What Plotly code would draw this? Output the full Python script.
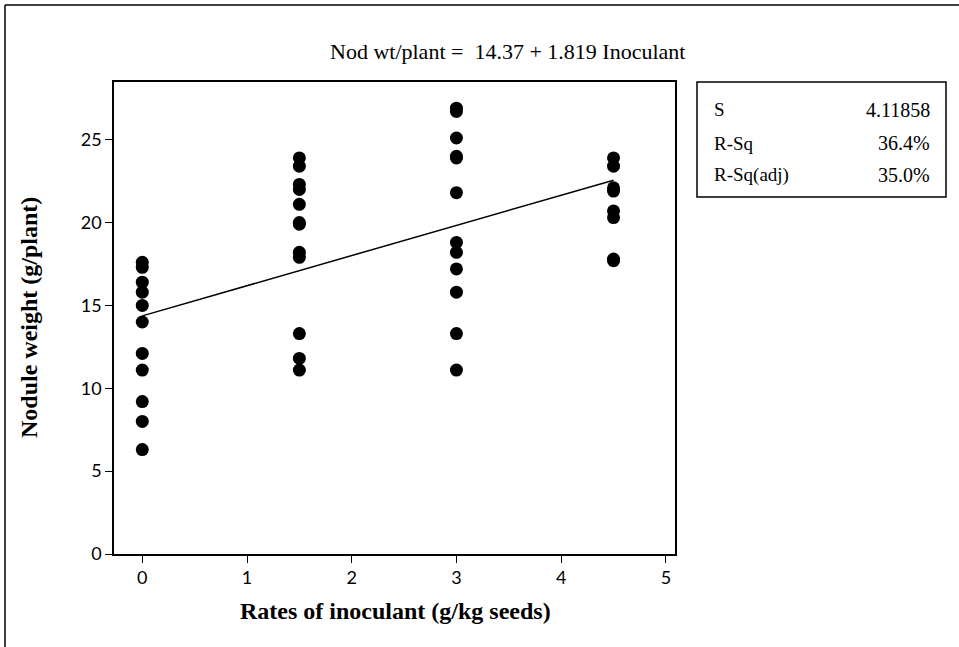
import plotly.graph_objects as go

# Nodule weight per plant at each inoculant rate
rate_0 = [17.6, 17.3, 16.4, 15.8, 15.0, 14.0, 12.1, 11.1, 9.2, 8.0, 6.3]
rate_15 = [23.9, 23.4, 22.3, 22.0, 21.1, 19.9, 20.0, 18.2, 17.9, 13.3, 11.8, 11.1]
rate_3 = [26.9, 26.7, 25.1, 24.0, 23.9, 21.8, 18.8, 18.2, 17.2, 15.8, 13.3, 11.1]
rate_45 = [23.9, 23.4, 22.1, 21.9, 20.7, 20.3, 17.8, 17.7]
rates = [0.0, 1.5, 3.0, 4.5]

# Fitted regression and summary statistics
intercept = 14.37
slope = 1.819
stat_names = ["S", "R-Sq", "R-Sq(adj)"]
stat_values = ["4.11858", "36.4%", "35.0%"]
x_ticks = [0, 1, 2, 3, 4, 5]
y_ticks = [0, 5, 10, 15, 20, 25]

xs, ys = [], []
for r, grp in zip(rates, [rate_0, rate_15, rate_3, rate_45]):
    xs += [r] * len(grp)
    ys += grp

fit_x = [rates[0], rates[-1]]
fit_y = [intercept + slope * v for v in fit_x]

W, H = 959, 647
L, R, T, B = 114, 675, 82, 554


def px(x):
    return (x - L) / (R - L)


def py(y):
    return (B - y) / (B - T)


SERIF = "Liberation Serif"
TICKF = "Lato"

fig = go.Figure()
fig.add_trace(go.Scatter(x=fit_x, y=fit_y, mode="lines",
                         line=dict(color="black", width=1.5),
                         showlegend=False, hoverinfo="skip"))
fig.add_trace(go.Scatter(x=xs, y=ys, mode="markers",
                         marker=dict(color="black", size=13, line=dict(width=0)),
                         showlegend=False))

axis_common = dict(showgrid=False, zeroline=False, showline=True,
                   linecolor="black", linewidth=1.6, mirror=True,
                   ticks="outside", ticklen=7, tickwidth=1.2, tickcolor="black",
                   tickfont=dict(family=TICKF, size=18, color="black"))

fig.update_xaxes(range=[-0.27, 5.087], tickvals=x_ticks, **axis_common)
fig.update_yaxes(range=[0, 28.48], tickvals=y_ticks, **axis_common)

shapes = [
    # stats box
    dict(type="rect", xref="paper", yref="paper",
         x0=px(697), x1=px(946), y0=py(197), y1=py(82),
         line=dict(color="black", width=1.5), fillcolor="white"),
    # outer frame (left and top edges)
    dict(type="line", xref="paper", yref="paper",
         x0=px(5), x1=px(5), y0=py(5), y1=py(H + 5),
         line=dict(color="black", width=1.5)),
    dict(type="line", xref="paper", yref="paper",
         x0=px(5), x1=px(W + 5), y0=py(5), y1=py(5),
         line=dict(color="black", width=1.5)),
]

annotations = [
    dict(text="Nod wt/plant =  14.37 + 1.819 Inoculant",
         xref="paper", yref="paper", x=px(507), y=py(51),
         xanchor="center", yanchor="middle", showarrow=False,
         font=dict(family=SERIF, size=22, color="black")),
    dict(text="<b>Rates of inoculant (g/kg seeds)</b>",
         xref="paper", yref="paper", x=px(395), y=py(611),
         xanchor="center", yanchor="middle", showarrow=False,
         font=dict(family=SERIF, size=24, color="black")),
    dict(text="<b>Nodule weight (g/plant)</b>",
         xref="paper", yref="paper", x=px(29), y=py(318),
         xanchor="center", yanchor="middle", showarrow=False, textangle=-90,
         font=dict(family=SERIF, size=24, color="black")),
]
row_y = [110, 143, 175]
for name, val, yy in zip(stat_names, stat_values, row_y):
    annotations.append(dict(text=name, xref="paper", yref="paper",
                            x=px(712), y=py(yy), xanchor="left", yanchor="middle",
                            showarrow=False,
                            font=dict(family=SERIF, size=19, color="black")))
    annotations.append(dict(text=val, xref="paper", yref="paper",
                            x=px(932), y=py(yy), xanchor="right", yanchor="middle",
                            showarrow=False,
                            font=dict(family=SERIF, size=20, color="black")))

fig.update_layout(width=W, height=H,
                  margin=dict(l=L, r=W - R, t=T, b=H - B),
                  paper_bgcolor="white", plot_bgcolor="white",
                  shapes=shapes, annotations=annotations)

fig.write_html("out.html")
